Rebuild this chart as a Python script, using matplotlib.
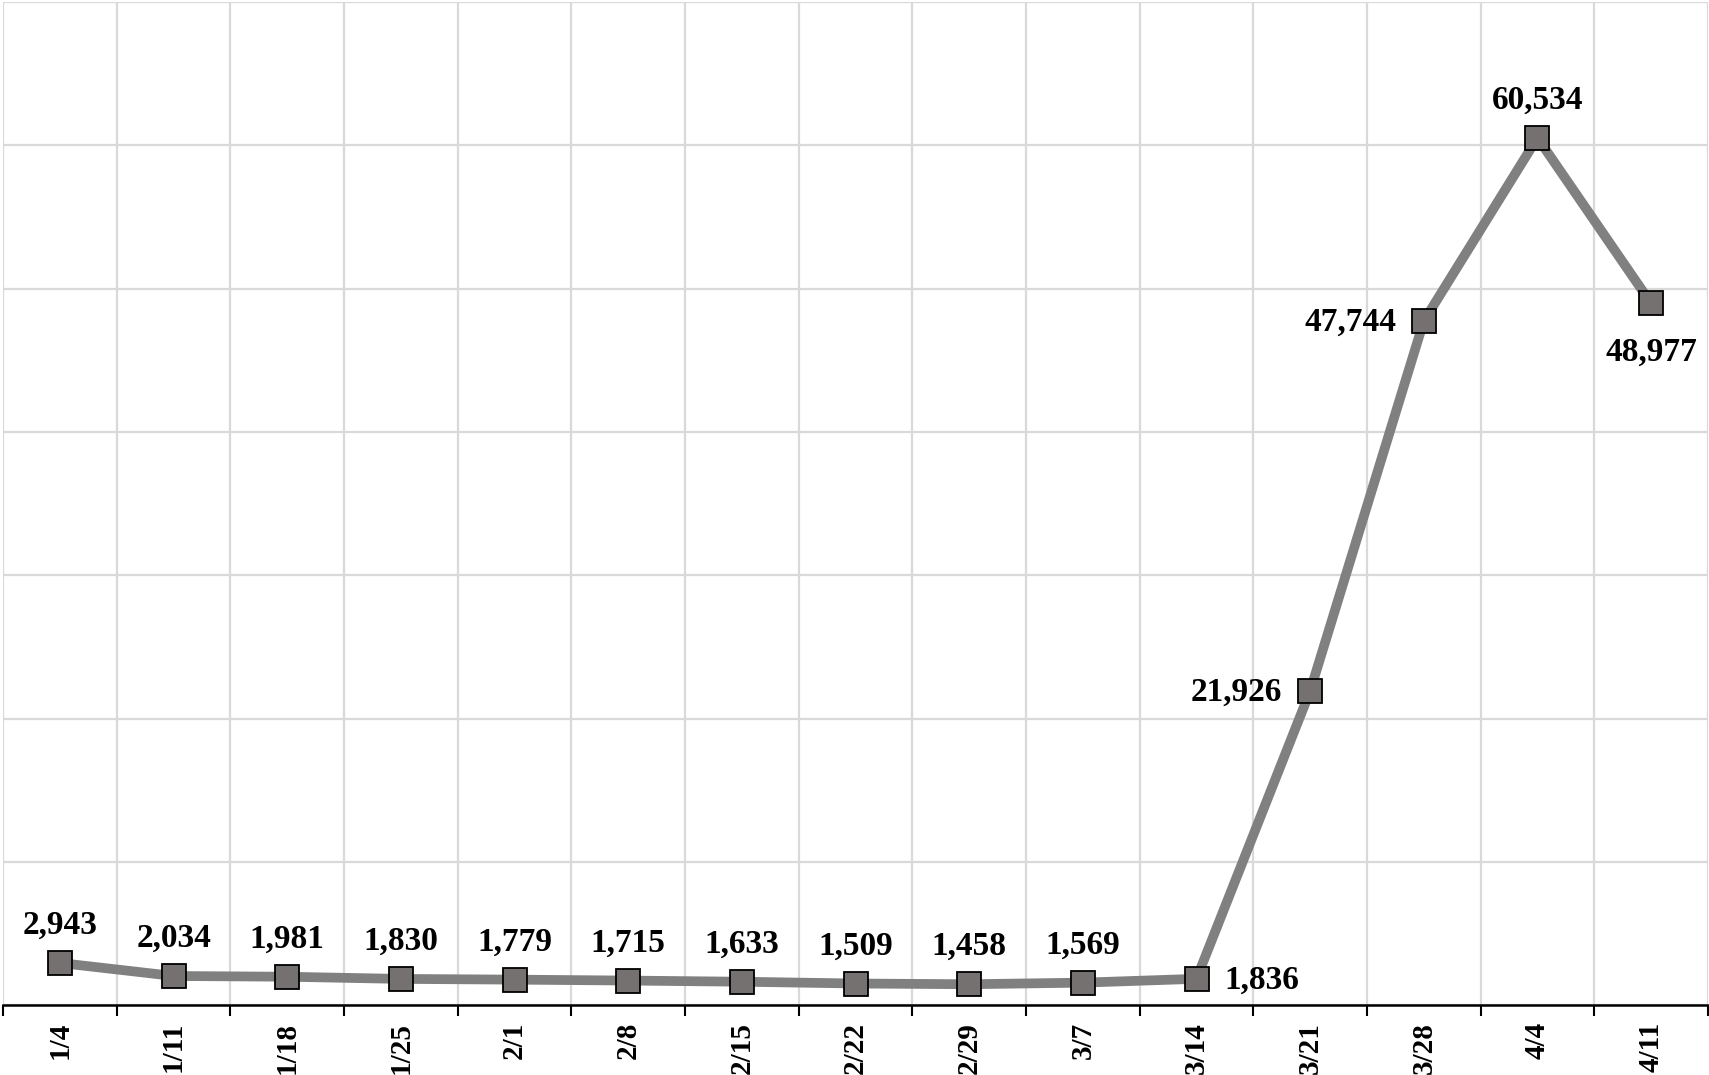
import matplotlib.pyplot as plt
import numpy as np

# Weekly values
weeks = ["1/4", "1/11", "1/18", "1/25", "2/1", "2/8", "2/15", "2/22",
         "2/29", "3/7", "3/14", "3/21", "3/28", "4/4", "4/11"]
values = [2943, 2034, 1981, 1830, 1779, 1715, 1633, 1509,
          1458, 1569, 1836, 21926, 47744, 60534, 48977]
# where each data label sits relative to its marker
label_pos = ["above"] * 10 + ["right", "left", "left", "above", "below"]

plt.rcParams["font.family"] = ["Liberation Serif", "DejaVu Serif"]

fig = plt.figure(figsize=(17.09, 10.75), dpi=100)
ax = fig.add_axes([0.0018, 0.065, 0.9976, 0.933])

x = np.arange(len(weeks))
ax.plot(x, values, color="#808080", lw=7, marker="s", ms=17.5,
        mfc="#767171", mec="black", mew=1.3, zorder=3, solid_joinstyle="miter")

offsets = {"above": ((0, 21), "center", "baseline"),
           "below": ((0, -24), "center", "top"),
           "left": ((-20, -1), "right", "center"),
           "right": ((20, -1), "left", "center")}
for xi, v, pos in zip(x, values, label_pos):
    off, ha, va = offsets[pos]
    ax.annotate(f"{v:,}", (xi, v), xytext=off, textcoords="offset points",
                ha=ha, va=va, fontsize=24, fontweight="bold", zorder=4)

ax.set_xlim(-0.5, len(weeks) - 0.5)
ax.set_ylim(0, 70000)
ax.set_yticks(np.arange(0, 70001, 10000))
ax.set_xticks(np.arange(-0.5, len(weeks)), minor=False)
ax.set_xticks(x, minor=True)
ax.set_xticklabels([])
ax.set_xticklabels(weeks, minor=True, rotation=90, fontsize=21, fontweight="bold")
ax.tick_params(axis="x", which="major", length=8, width=1.5, color="black", direction="out")
ax.tick_params(axis="x", which="minor", length=0, pad=12)
ax.tick_params(axis="y", length=0, labelleft=False)

ax.grid(True, which="major", color="#d9d9d9", lw=1.6)
ax.set_axisbelow(True)
for s in ["left", "right", "top"]:
    ax.spines[s].set_visible(False)
ax.spines["bottom"].set_linewidth(1.8)
ax.spines["bottom"].set_zorder(5)

fig.savefig("out.png", dpi=100)
